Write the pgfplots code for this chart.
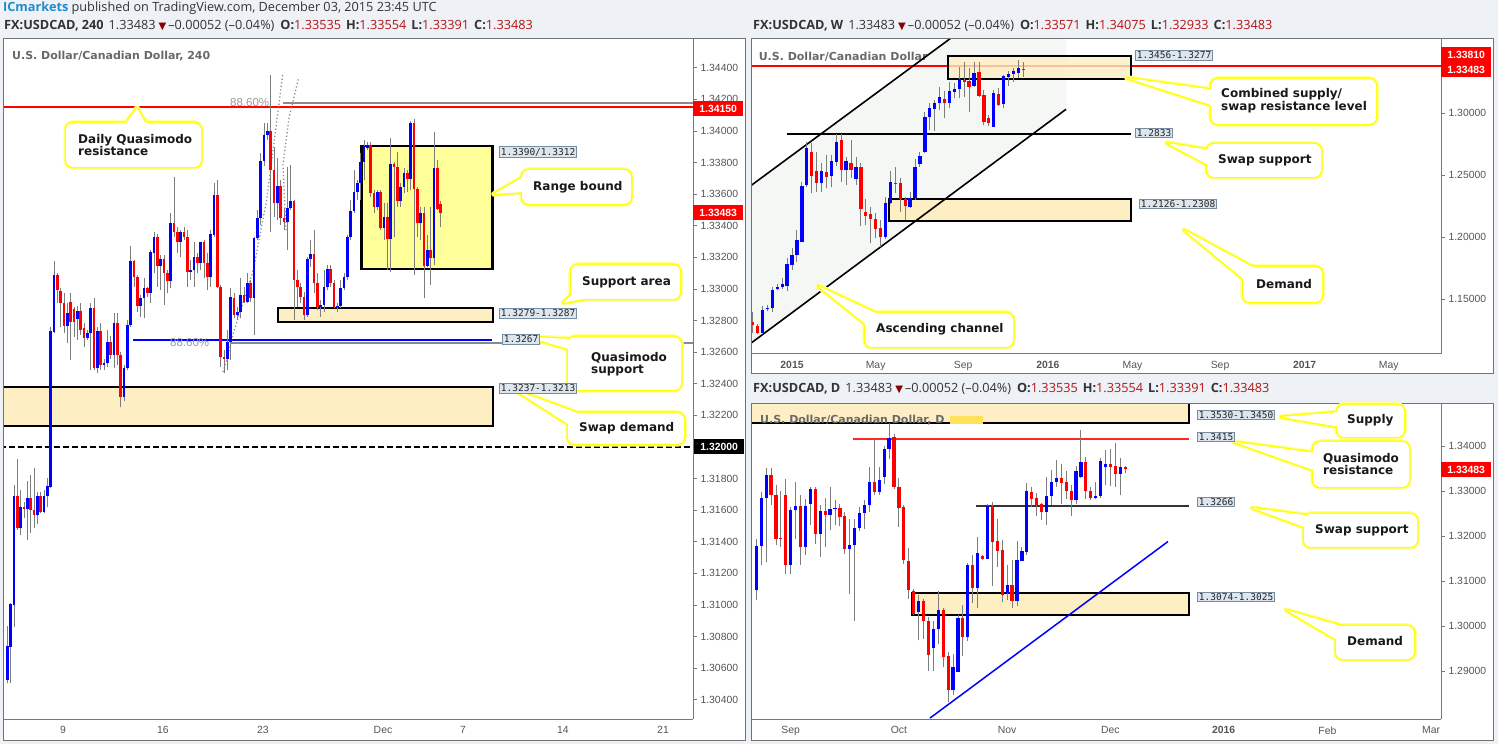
\documentclass[border=0pt]{standalone}
\usepackage{pgfplots}
\pgfplotsset{compat=1.18}
\usepackage{pgfplotstable}
\usepackage{fontspec}
\setmainfont{Open Sans}
\newfontfamily\djv{DejaVu Sans}
\newfontfamily\lsans{Liberation Sans}
\newfontfamily\dmono{DejaVu Sans Mono}

\definecolor{bgc}{RGB}{238,241,245}
\definecolor{framec}{RGB}{115,115,115}
\definecolor{axisc}{RGB}{120,120,120}
\definecolor{wickc}{RGB}{125,125,125}
\definecolor{cup}{RGB}{0,0,255}
\definecolor{cdn}{RGB}{255,0,0}
\definecolor{zonec}{RGB}{253,238,196}
\definecolor{rangec}{RGB}{255,255,153}
\definecolor{cally}{RGB}{255,255,0}
\definecolor{labf}{RGB}{221,230,238}
\definecolor{labd}{RGB}{120,140,160}
\definecolor{tickc}{RGB}{85,85,85}
\definecolor{titc}{RGB}{105,105,105}
\definecolor{valc}{RGB}{180,20,20}
\definecolor{tri}{RGB}{140,0,0}
\definecolor{icblue}{RGB}{30,140,205}
\definecolor{hdrc}{RGB}{51,51,51}
\definecolor{chan}{RGB}{245,247,245}
\definecolor{fibc}{RGB}{138,138,138}
\definecolor{ytag}{RGB}{255,225,90}

\newcommand\tickf{\lsans\fontsize{10.4}{12}\selectfont}
\newcommand\callf{\djv\bfseries\fontsize{12}{11.5}\selectfont}
\newcommand\titf{\djv\bfseries\fontsize{11}{13}\selectfont}
\newcommand\monof{\dmono\fontsize{9.5}{11}\selectfont}
\newcommand\hdrf{\fontsize{12.7}{14}\selectfont}
\newcommand\pricef{\lsans\bfseries\fontsize{10.4}{12}\selectfont}

% ---------------- 4H data (x = candle index) ----------------
\pgfplotstableread{
x o h l c
0 1.30525 1.30867 1.30504 1.30741
1 1.30736 1.31010 1.30504 1.31006
2 1.31000 1.31759 1.30863 1.31690
3 1.31690 1.31922 1.31475 1.31489
4 1.31489 1.31728 1.31443 1.31618
5 1.31622 1.31654 1.31549 1.31610
6 1.31610 1.31785 1.31411 1.31678
7 1.31678 1.31823 1.31454 1.31601
8 1.31600 1.31865 1.31485 1.31572
9 1.31572 1.31717 1.31513 1.31690
10 1.31690 1.31717 1.31580 1.31591
11 1.31591 1.31730 1.31580 1.31690
12 1.31690 1.31802 1.31620 1.31753
13 1.31750 1.32760 1.31740 1.32734
14 1.32730 1.33179 1.32720 1.33089
15 1.33088 1.33099 1.32909 1.32993
16 1.32990 1.33004 1.32761 1.32909
17 1.32911 1.32972 1.32719 1.32766
18 1.32766 1.32909 1.32656 1.32846
19 1.32920 1.32972 1.32550 1.32793
20 1.32871 1.32888 1.32698 1.32793
21 1.32808 1.32892 1.32677 1.32863
22 1.32863 1.32909 1.32709 1.32740
23 1.32751 1.32782 1.32635 1.32688
24 1.32688 1.32740 1.32677 1.32719
25 1.32719 1.32909 1.32487 1.32877
26 1.32877 1.32941 1.32487 1.32498
27 1.32498 1.32761 1.32466 1.32736
28 1.32736 1.32782 1.32487 1.32519
29 1.32519 1.32560 1.32487 1.32529
30 1.32529 1.32740 1.32508 1.32662
31 1.32662 1.32700 1.32560 1.32582
32 1.32582 1.32846 1.32498 1.32782
33 1.32782 1.32846 1.32519 1.32582
34 1.32582 1.32603 1.32251 1.32318
35 1.32318 1.32520 1.32290 1.32502
36 1.32502 1.32804 1.32487 1.32772
37 1.32772 1.33274 1.32761 1.33177
38 1.33177 1.33183 1.33015 1.33074
39 1.33074 1.33088 1.32856 1.32894
40 1.32894 1.32962 1.32825 1.32941
41 1.32941 1.33067 1.32814 1.33004
42 1.33004 1.33015 1.32951 1.32977
43 1.32977 1.33247 1.32909 1.33236
44 1.33226 1.33363 1.33099 1.33327
45 1.33327 1.33348 1.33015 1.33148
46 1.33148 1.33215 1.32993 1.33190
47 1.33190 1.33215 1.32899 1.33099
48 1.33099 1.33120 1.32972 1.33053
49 1.33053 1.33479 1.33004 1.33415
50 1.33415 1.33711 1.33331 1.33359
51 1.33359 1.33394 1.33226 1.33299
52 1.33299 1.33373 1.33204 1.33363
53 1.33363 1.33394 1.33310 1.33331
54 1.33331 1.33373 1.33015 1.33105
55 1.33105 1.33183 1.33057 1.33120
56 1.33120 1.33299 1.33015 1.33204
57 1.33204 1.33226 1.33099 1.33167
58 1.33167 1.33299 1.33120 1.33295
59 1.33295 1.33310 1.33067 1.33162
60 1.33162 1.33226 1.32993 1.33074
61 1.33074 1.33373 1.33015 1.33346
62 1.33342 1.33669 1.33331 1.33595
63 1.33595 1.33690 1.33004 1.33015
64 1.33015 1.33025 1.32508 1.32571
65 1.32571 1.32614 1.32466 1.32554
66 1.32554 1.32740 1.32487 1.32666
67 1.32666 1.33004 1.32550 1.32951
68 1.32945 1.32972 1.32814 1.32835
69 1.32835 1.32884 1.32804 1.32856
70 1.32856 1.33067 1.32814 1.32962
71 1.32962 1.33015 1.32909 1.32920
72 1.32920 1.33099 1.32909 1.33036
73 1.33036 1.33057 1.32920 1.32945
74 1.32945 1.33331 1.32709 1.33321
75 1.33321 1.33500 1.33310 1.33447
76 1.33447 1.33859 1.33405 1.33812
77 1.33812 1.34053 1.33780 1.33975
78 1.33975 1.34048 1.33943 1.34002
79 1.34002 1.34354 1.33363 1.33753
80 1.33753 1.33901 1.33458 1.33542
81 1.33542 1.33827 1.33437 1.33652
82 1.33652 1.33690 1.33405 1.33447
83 1.33447 1.33510 1.33373 1.33426
84 1.33426 1.33774 1.33247 1.33510
85 1.33510 1.33785 1.33500 1.33557
86 1.33557 1.33563 1.32804 1.33057
87 1.33057 1.33120 1.32888 1.33015
88 1.33015 1.33036 1.32909 1.32951
89 1.32951 1.32983 1.32804 1.32835
90 1.32835 1.33204 1.32825 1.33188
91 1.33188 1.33310 1.33141 1.33219
92 1.33219 1.33373 1.32972 1.33036
93 1.33036 1.33099 1.32867 1.32888
94 1.32888 1.32930 1.32825 1.32899
95 1.32899 1.33120 1.32856 1.33015
96 1.33015 1.33152 1.32993 1.33124
97 1.33124 1.33152 1.33015 1.33036
98 1.33036 1.33057 1.32877 1.32888
99 1.32884 1.32909 1.32856 1.32892
100 1.32892 1.33057 1.32877 1.33004
101 1.33004 1.33099 1.32993 1.33074
102 1.33074 1.33342 1.33057 1.33327
103 1.33327 1.33563 1.33310 1.33496
104 1.33496 1.33753 1.33479 1.33612
105 1.33612 1.33690 1.33563 1.33669
106 1.33669 1.33859 1.33563 1.33806
107 1.33806 1.33943 1.33690 1.33905
108 1.33890 1.33932 1.33880 1.33909
109 1.33909 1.33932 1.33584 1.33605
110 1.33605 1.33626 1.33479 1.33521
111 1.33521 1.33626 1.33500 1.33616
112 1.33616 1.33626 1.33373 1.33384
113 1.33384 1.33542 1.33310 1.33458
114 1.33458 1.33542 1.33120 1.33314
115 1.33314 1.33954 1.33110 1.33791
116 1.33791 1.33806 1.33331 1.33774
117 1.33774 1.33869 1.33521 1.33559
118 1.33559 1.33669 1.33521 1.33648
119 1.33648 1.33764 1.33605 1.33732
120 1.33732 1.33753 1.33616 1.33694
121 1.33694 1.34065 1.33626 1.34048
122 1.34048 1.34076 1.33088 1.33631
123 1.33631 1.33648 1.33331 1.33420
124 1.33420 1.33521 1.33310 1.33483
125 1.33483 1.33521 1.32941 1.33145
126 1.33145 1.33342 1.33141 1.33247
127 1.33247 1.33521 1.33025 1.33198
128 1.33198 1.33996 1.33152 1.33764
129 1.33764 1.33816 1.33500 1.33506
130 1.33535 1.33554 1.33391 1.33483
}\tabL

% ---------------- Weekly data (x = weeks since 1 Jan 2015) ----------------
\pgfplotstableread{
x o h l c
-8 1.1317 1.1398 1.1223 1.1290
-7 1.1282 1.1300 1.1215 1.1229
-6 1.1229 1.1444 1.1223 1.1411
-5 1.1417 1.1450 1.1400 1.1425
-4 1.1425 1.1600 1.1398 1.1573
-3 1.1583 1.1620 1.1570 1.1594
-2 1.1594 1.1667 1.1578 1.1618
-1 1.1605 1.1828 1.1567 1.1780
0 1.1774 1.1909 1.1734 1.1855
1 1.1855 1.2057 1.1801 1.1976
2 1.1962 1.2446 1.1962 1.2411
3 1.2419 1.2769 1.2406 1.2718
4 1.2688 1.2755 1.2352 1.2495
5 1.2532 1.2688 1.2366 1.2438
6 1.2433 1.2594 1.2366 1.2532
7 1.2524 1.2661 1.2393 1.2487
8 1.2495 1.2661 1.2406 1.2613
9 1.2608 1.2831 1.2575 1.2763
10 1.2782 1.2831 1.2446 1.2543
11 1.2543 1.2648 1.2419 1.2613
12 1.2599 1.2782 1.2473 1.2543
13 1.2465 1.2648 1.2419 1.2565
14 1.2565 1.2594 1.2091 1.2226
15 1.2202 1.2306 1.2097 1.2172
16 1.2183 1.2245 1.1949 1.2145
17 1.2145 1.2191 1.1989 1.2065
18 1.2070 1.2137 1.1922 1.1997
19 1.1997 1.2325 1.1981 1.2272
20 1.2277 1.2532 1.2266 1.2441
21 1.2436 1.2567 1.2352 1.2430
22 1.2436 1.2473 1.2204 1.2306
23 1.2304 1.2325 1.2137 1.2253
24 1.2245 1.2366 1.2231 1.2315
25 1.2312 1.2629 1.2298 1.2567
26 1.2589 1.2688 1.2567 1.2653
27 1.2688 1.3008 1.2675 1.2965
28 1.2965 1.3083 1.2863 1.3043
29 1.3035 1.3105 1.2858 1.3083
30 1.3083 1.3212 1.3024 1.3132
31 1.3113 1.3180 1.2957 1.3083
32 1.3083 1.3253 1.3038 1.3180
33 1.3172 1.3239 1.3118 1.3194
34 1.3194 1.3374 1.3118 1.3274
35 1.3269 1.3414 1.3132 1.3253
36 1.3261 1.3360 1.3011 1.3212
37 1.3220 1.3414 1.3212 1.3325
38 1.3333 1.3414 1.3132 1.3140
39 1.3145 1.3185 1.2903 1.2930
40 1.2957 1.2984 1.2895 1.2922
41 1.2890 1.3185 1.2890 1.3159
42 1.3151 1.3199 1.3056 1.3065
43 1.3070 1.3306 1.3038 1.3298
44 1.3288 1.3341 1.3220 1.3314
45 1.3314 1.3360 1.3253 1.3339
46 1.3325 1.3427 1.3280 1.3363
47 1.3357 1.3408 1.3293 1.3348
}\tabW

% ---------------- Daily data (x = trading days since 1 Sep 2015) ----------------
\pgfplotstableread{
x o h l c
-7 1.3079 1.3194 1.3057 1.3178
-6 1.3178 1.3298 1.3135 1.3284
-5 1.3284 1.3351 1.3142 1.3335
-4 1.3335 1.3350 1.3268 1.3290
-3 1.3290 1.3313 1.3179 1.3194
-2 1.3196 1.3301 1.3175 1.3194
-1 1.3290 1.3327 1.3116 1.3136
0 1.3136 1.3264 1.3116 1.3257
1 1.3257 1.3321 1.3194 1.3267
2 1.3267 1.3290 1.3135 1.3175
3 1.3175 1.3283 1.3157 1.3267
4 1.3270 1.3309 1.3224 1.3305
5 1.3305 1.3309 1.3183 1.3205
6 1.3205 1.3268 1.3153 1.3256
7 1.3256 1.3284 1.3175 1.3247
8 1.3247 1.3309 1.3213 1.3261
9 1.3259 1.3279 1.3224 1.3262
10 1.3262 1.3272 1.3222 1.3242
11 1.3244 1.3253 1.3161 1.3170
12 1.3170 1.3238 1.3072 1.3179
13 1.3179 1.3238 1.3012 1.3218
14 1.3218 1.3264 1.3210 1.3251
15 1.3250 1.3279 1.3216 1.3268
16 1.3268 1.3353 1.3253 1.3320
17 1.3320 1.3416 1.3290 1.3298
18 1.3298 1.3353 1.3292 1.3324
19 1.3331 1.3401 1.3316 1.3393
20 1.3393 1.3450 1.3372 1.3418
21 1.3419 1.3427 1.3305 1.3309
22 1.3309 1.3329 1.3220 1.3263
23 1.3264 1.3268 1.3138 1.3147
24 1.3144 1.3174 1.3061 1.3081
25 1.3078 1.3083 1.3024 1.3027
26 1.3030 1.3068 1.2968 1.3055
27 1.3055 1.3061 1.2972 1.3012
28 1.3012 1.3020 1.2901 1.2936
29 1.2951 1.3012 1.2901 1.2994
30 1.2994 1.3077 1.2961 1.3035
31 1.30356 1.30393 1.29096 1.29319
32 1.29333 1.29430 1.28319 1.28578
33 1.28578 1.29378 1.28467 1.29081
34 1.28985 1.30244 1.28985 1.30185
35 1.30185 1.30467 1.29333 1.29763
36 1.29763 1.31407 1.29674 1.31356
37 1.31356 1.31578 1.30504 1.30837
38 1.30837 1.31985 1.30393 1.31630
39 1.31556 1.31570 1.31459 1.31496
40 1.31496 1.32711 1.31490 1.32667
41 1.32667 1.32763 1.30889 1.31874
42 1.31889 1.32370 1.31304 1.31674
43 1.31689 1.31911 1.30541 1.30689
44 1.30726 1.31363 1.30585 1.30911
45 1.30911 1.31459 1.30393 1.30563
46 1.30563 1.31896 1.30444 1.31467
47 1.31452 1.31763 1.31437 1.31667
48 1.31652 1.33170 1.31578 1.33000
49 1.32970 1.33081 1.32637 1.32822
50 1.32837 1.32948 1.32444 1.32689
51 1.32711 1.32726 1.32348 1.32541
52 1.32541 1.33300 1.32244 1.32889
53 1.32889 1.33470 1.32696 1.33207
54 1.3320 1.3368 1.3309 1.3329
55 1.3329 1.3361 1.3272 1.3318
56 1.3320 1.3344 1.3283 1.3299
57 1.3299 1.3313 1.3244 1.3281
58 1.3281 1.3355 1.3270 1.3344
59 1.3331 1.3435 1.3329 1.3364
60 1.3364 1.3376 1.3283 1.3299
61 1.3299 1.3309 1.3279 1.3284
62 1.3284 1.3320 1.3283 1.3288
63 1.3288 1.3373 1.3284 1.3366
64 1.3353 1.3390 1.3313 1.3360
65 1.3360 1.3394 1.3311 1.3353
66 1.3355 1.3407 1.3309 1.3338
67 1.3338 1.3373 1.3292 1.3353
68 1.33535 1.33554 1.33391 1.33483
}\tabD

\pgfplotsset{nomark/.style={only marks, mark=*, mark size=0pt, mark options={draw=none, fill=none}, forget plot}}

% candles: #1 table, #2 body width, #3 min body, #4 wick width
\newcommand\candles[4]{%
 \addplot[nomark, error bars/.cd, y dir=plus, y explicit, error mark=none,
   error bar style={line width=#4, draw=wickc, solid}]
   table[x=x, y=l, y error expr=\thisrow{h}-\thisrow{l}] {#1};
 \addplot[nomark, error bars/.cd, y dir=plus, y explicit, error mark=none,
   error bar style={line width=#2, draw=cup, solid}]
   table[x=x, y=o, y error expr={\thisrow{c}>\thisrow{o} ? max(\thisrow{c}-\thisrow{o},#3) : 0}] {#1};
 \addplot[nomark, error bars/.cd, y dir=plus, y explicit, error mark=none,
   error bar style={line width=#2, draw=cdn, solid}]
   table[x=x, y=c, y error expr={\thisrow{c}>\thisrow{o} ? 0 : max(\thisrow{o}-\thisrow{c},#3)}] {#1};
}

\pgfplotsset{tvaxis/.style={scale only axis, anchor=south west,
  axis x line*=bottom, axis y line*=right,
  axis line style={draw=axisc, line width=1pt},
  tick align=outside, major tick length=4pt,
  ytick style={draw=axisc, line width=0.8pt}, xtick style={draw=none},
  ticklabel style={font=\tickf, text=tickc}, clip=true}}

% callout: #1 box, #2 pointer triangle, #3 text anchor, #4 text
\newcommand\callout[4]{%
 \draw[cally!40, line width=5.5pt, rounded corners=7pt] #1;
 \draw[cally!40, line width=5.5pt, line join=round] #2 -- cycle;
 \draw[cally, line width=3pt, rounded corners=7pt] #1;
 \draw[cally, line width=3pt, line join=round] #2 -- cycle;
 \fill[white, rounded corners=7pt] #1;
 \fill[white] #2 -- cycle;
 \node[anchor=west, inner sep=0pt, align=left, font=\callf, text=black!90] at #3 {#4};
}
\newcommand\mlab[3]{\node[draw=labd, fill=labf, line width=0.8pt, inner xsep=1.5pt, inner ysep=1.2pt, anchor=west, font=\monof, text=black!85] at (#1,#2) {#3};}
\newcommand\plab[4]{\node[fill=#4, text=white, font=\pricef, minimum width=50pt, minimum height=15pt, inner sep=0pt, anchor=west] at (#1,#2) {#3};}
\newcommand\hdrline[5]{\textbf{FX:USDCAD, #1}\hspace{5pt}1.33483\hspace{3pt}{\djv\fontsize{10}{12}\selectfont\textcolor{tri}{▼}}\hspace{2pt}–0.00052 (–0.04\%)\hspace{6pt}\textbf{O:}\textcolor{valc}{#2}\hspace{5pt}\textbf{H:}\textcolor{valc}{#3}\hspace{5pt}\textbf{L:}\textcolor{valc}{#4}\hspace{5pt}\textbf{C:}\textcolor{valc}{#5}}

\begin{document}
\begin{tikzpicture}
\useasboundingbox (0pt,0pt) rectangle (1498pt,744pt);
\fill[bgc] (0pt,0pt) rectangle (1498pt,744pt);
\begin{scope}[x=1pt, y=-1pt, yshift=744pt]
 \fill[white] (3,39) rectangle (745,740);
 \fill[white] (751,39) rectangle (1493,374);
 \fill[white] (751,404) rectangle (1493,740);
 \node[anchor=west, inner sep=0pt, font=\titf, text=titc] at (12,56) {U.S. Dollar/Canadian Dollar, 240};
\end{scope}

% ================= LEFT: 4H =================
\begin{axis}[tvaxis, at={(3pt,25pt)}, width=690pt, height=680pt,
  xmin=-1.29, xmax=205.7, ymin=1.302785, ymax=1.345823,
  xtick={16.7,46.7,76.7,112.7,136.7,166.7,196.7}, xticklabels={9,16,23,Dec,7,14,21},
  ytick={1.304,1.306,1.308,1.310,1.312,1.314,1.316,1.318,1.322,1.324,1.326,1.328,1.330,1.332,1.334,1.336,1.338,1.340,1.342,1.344},
  yticklabels={1.30400,1.30600,1.30800,1.31000,1.31200,1.31400,1.31600,1.31800,1.32200,1.32400,1.32600,1.32800,1.33000,1.33200,1.33400,1.33600,1.33800,1.34000,1.34200,1.34400}]
 \filldraw[fill=zonec, draw=black, line width=2pt] (-3,1.32133) rectangle (145.6,1.32382);
 \filldraw[fill=zonec, draw=black, line width=2pt] (81.2,1.32793) rectangle (145.6,1.32882);
 \filldraw[fill=rangec, draw=black, line width=2.5pt] (106.3,1.33125) rectangle (145.6,1.33905);
 \draw[black, line width=2.6pt, dash pattern=on 6pt off 3pt] (-5,1.32) -- (210,1.32);
 \draw[fibc, line width=2.2pt] (82.7,1.34175) -- (210,1.34175);
 \draw[cdn, line width=2.2pt] (-5,1.3415) -- (210,1.3415);
 \draw[fibc, line width=2.2pt] (66.8,1.32660) -- (210,1.32660);
 \draw[cup, line width=2pt] (37.7,1.32677) -- (145.4,1.32677);
 \draw[fibc, line width=1.3pt, dash pattern=on 1.2pt off 2.4pt] (82.6,1.34354) -- (77.8,1.33563) -- (73.8,1.33120) -- (67.8,1.32720) -- (65.8,1.32551) -- (64.6,1.32466);
 \draw[fibc, line width=1.3pt, dash pattern=on 1.2pt off 2.4pt] (87.3,1.34327) -- (84.5,1.34082) -- (82.7,1.33785) -- (83.6,1.33373);
 \candles{\tabL}{2.7pt}{0.00006}{0.9pt}
\end{axis}

% ================= TOP RIGHT: Weekly =================
\begin{axis}[tvaxis, at={(751pt,390pt)}, width=690pt, height=315pt,
  xmin=-8.333, xmax=131.91, ymin=1.10565, ymax=1.35968,
  xtick={0,17,34.8,52,69.2,87,104.2,121.3},
  xticklabels={{\bfseries 2015},May,Sep,{\bfseries 2016},May,Sep,{\bfseries 2017},May},
  ytick={1.15,1.20,1.25,1.30}, yticklabels={1.15000,1.20000,1.25000,1.30000}]
 \fill[chan] (-8.333,1.2415) -- (34,1.3654) -- (55.7,1.3654) -- (55.7,1.3030) -- (-8.333,1.1144) -- cycle;
 \node[anchor=west, inner sep=0pt, font=\titf, text=titc] at (-6.8,1.3452) {U.S. Dollar/Canadian Dollar};
 \draw[cdn, line width=2.2pt] (-10,1.3381) -- (140,1.3381);
 \filldraw[fill=zonec, fill opacity=0.8, draw=black, line width=2pt] (31.65,1.3277) rectangle (68.9,1.3456);
 \filldraw[fill=zonec, draw=black, line width=2pt] (19.65,1.2126) rectangle (68.9,1.2308);
 \draw[black, line width=2.2pt] (-1.08,1.2833) -- (68.9,1.2833);
 \draw[black, line width=1.6pt] (-8.333,1.2415) -- (34,1.3654);
 \draw[black, line width=1.6pt] (-8.333,1.1144) -- (55.7,1.3030);
 \candles{\tabW}{3.3pt}{0.0008}{0.9pt}
\end{axis}

% ================= BOTTOM RIGHT: Daily =================
\begin{axis}[tvaxis, at={(751pt,25pt)}, width=690pt, height=315pt,
  xmin=-8.07, xmax=132.2, ymin=1.27933, ymax=1.34933,
  xtick={0,22,44,65,88,109.1,130.2},
  xticklabels={Sep,Oct,Nov,Dec,{\bfseries 2016},Feb,Mar},
  ytick={1.29,1.30,1.31,1.32,1.33,1.34}, yticklabels={1.29000,1.30000,1.31000,1.32000,1.33000,1.34000}]
 \filldraw[fill=zonec, draw=black, line width=2pt] (-10,1.3450) rectangle (80.95,1.3530);
 \filldraw[fill=zonec, draw=black, line width=2pt] (24.6,1.3025) rectangle (80.95,1.3074);
 \draw[cdn!85, line width=1.8pt] (12.7,1.3415) -- (80.95,1.3415);
 \draw[black!80, line width=1.6pt] (37.7,1.3266) -- (80.95,1.3266);
 \draw[cup, line width=1.5pt] (28.3,1.27952) -- (76.7,1.31877);
 \candles{\tabD}{3.2pt}{0.00022}{0.9pt}
\end{axis}

\begin{scope}[x=1pt, y=-1pt, yshift=744pt]
 % frames
 \draw[framec, line width=1pt] (3,39) rectangle (745,740);
 \draw[framec, line width=1pt] (751,39) rectangle (1493,374);
 \draw[framec, line width=1pt] (751,404) rectangle (1493,740);
 % daily title
 \fill[ytag] (950,416) rectangle (983,424);
 \node[anchor=west, inner sep=0pt, font=\titf, text=titc] at (760,420) {U.S. Dollar/Canadian Dollar, D};
 % fib texts
 \node[anchor=west, inner sep=0pt, font=\lsans\fontsize{11.5}{13}\selectfont, text=black!40] at (230,103) {88.60\%};
 \node[anchor=west, inner sep=0pt, font=\lsans\fontsize{11.5}{13}\selectfont, text=black!40] at (170,343) {88.60\%};
 % price labels
 \plab{693}{108.5}{1.34150}{cdn}
 \plab{693}{213}{1.33483}{cdn}
 \plab{694}{447}{1.32000}{black}
 \plab{1441}{54.5}{1.33810}{cdn}
 \plab{1441}{70}{1.33483}{cdn}
 \plab{1441}{470}{1.33483}{cdn}
 % callouts
 \callout{(66,123) rectangle (201,167)}{(124,126) -- (137,108) -- (147,126)}{(78,145)}{Daily Quasimodo\\resistance}
 \callout{(522,170) rectangle (631,204)}{(525,176) -- (494,194) -- (525,192)}{(533,187)}{Range bound}
 \callout{(571,265) rectangle (680,299)}{(576,290) -- (563,303) -- (598,296)}{(582,282)}{Support area}
 \callout{(568,337) rectangle (681,390)}{(572,350) -- (528,337) -- (592,340)}{(591,364)}{Quasimodo\\support}
 \callout{(568,413) rectangle (684,444)}{(586,416) -- (515,390) -- (571,426)}{(579,428)}{Swap demand}
 \callout{(1211,79) rectangle (1376,124)}{(1214,90) -- (1127,78) -- (1214,106)}{(1221,101)}{Combined supply/\\swap resistance level}
 \callout{(1207,144) rectangle (1321,177)}{(1210,150) -- (1167,143) -- (1210,166)}{(1218,160)}{Swap support}
 \callout{(1243,267) rectangle (1322,302)}{(1258,270) -- (1184,230) -- (1246,281)}{(1256,284)}{Demand}
 \callout{(865,313) rectangle (1013,347)}{(882,316) -- (818,286) -- (868,326)}{(876,329.5)}{Ascending channel}
 \callout{(1337,405) rectangle (1404,437)}{(1340,412) -- (1281,417) -- (1340,427)}{(1347,420)}{Supply}
 \callout{(1313,442) rectangle (1409,487)}{(1316,453) -- (1234,442) -- (1316,471)}{(1323,464)}{Quasimodo\\resistance}
 \callout{(1304,514) rectangle (1417,547)}{(1320,517) -- (1252,508) -- (1307,528)}{(1315,530)}{Swap support}
 \callout{(1336,626) rectangle (1414,659)}{(1352,629) -- (1286,610) -- (1339,641)}{(1347,641.5)}{Demand}
 % mono labels (on top of pointers)
 \mlab{499}{152}{1.3390/1.3312}
 \mlab{499}{313.5}{1.3279-1.3287}
 \mlab{502}{339.5}{1.3267}
 \mlab{499}{388.5}{1.3237-1.3213}
 \mlab{1135}{55.5}{1.3456-1.3277}
 \mlab{1135}{133}{1.2833}
 \mlab{1139}{204}{1.2126-1.2308}
 \mlab{1197}{415}{1.3530-1.3450}
 \mlab{1197}{437}{1.3415}
 \mlab{1197}{502}{1.3266}
 \mlab{1197}{597}{1.3074-1.3025}
 % headers
 \node[anchor=west, inner sep=0pt, font=\hdrf, text=hdrc] at (3,8) {\textcolor{icblue}{\textbf{ICmarkets}} published on TradingView.com, December 03, 2015 23:45 UTC};
 \node[anchor=west, inner sep=0pt, font=\hdrf, text=hdrc] at (4,26) {\hdrline{240}{1.33535}{1.33554}{1.33391}{1.33483}};
 \node[anchor=west, inner sep=0pt, font=\hdrf, text=hdrc] at (753,26) {\hdrline{W}{1.33571}{1.34075}{1.32933}{1.33483}};
 \node[anchor=west, inner sep=0pt, font=\hdrf, text=hdrc] at (753,389) {\hdrline{D}{1.33535}{1.33554}{1.33391}{1.33483}};
\end{scope}
\end{tikzpicture}
\end{document}
